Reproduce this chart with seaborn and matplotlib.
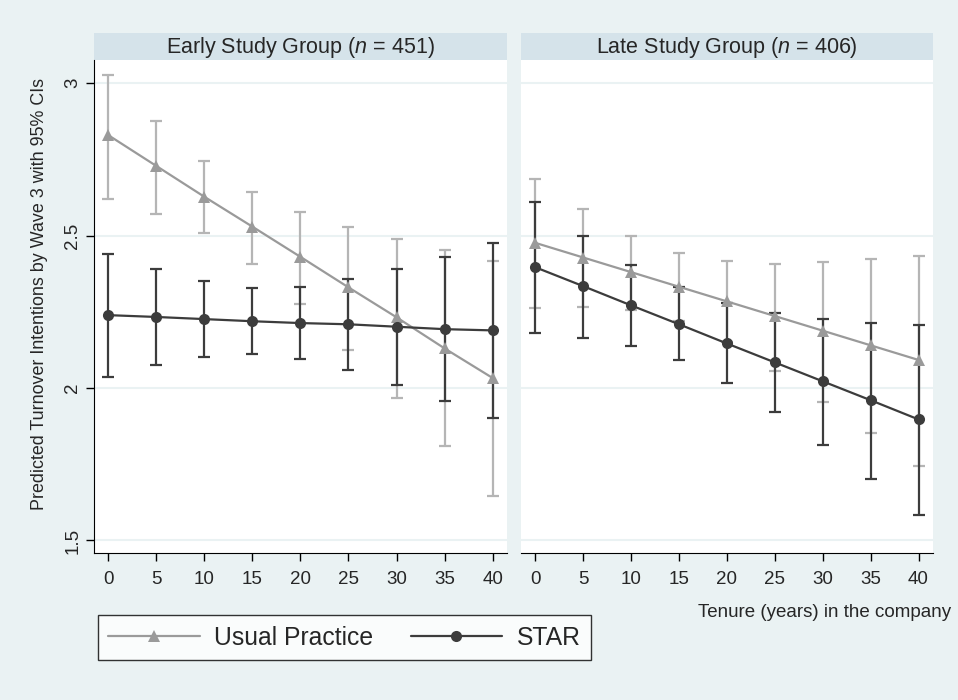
import numpy as np
import pandas as pd
import matplotlib
matplotlib.use('Agg')
import matplotlib.pyplot as plt
import matplotlib.patches as mpatches
import seaborn as sns

tenure = [0, 5, 10, 15, 20, 25, 30, 35, 40]

# Early Study Group (n = 451)
early_up = [2.829, 2.728, 2.627, 2.529, 2.430, 2.330, 2.232, 2.130, 2.033]
early_up_lo = [2.621, 2.571, 2.508, 2.408, 2.276, 2.126, 1.966, 1.809, 1.646]
early_up_hi = [3.027, 2.876, 2.743, 2.644, 2.577, 2.529, 2.489, 2.452, 2.416]
early_star = [2.239, 2.233, 2.226, 2.219, 2.213, 2.209, 2.201, 2.193, 2.189]
early_star_lo = [2.037, 2.074, 2.103, 2.111, 2.095, 2.059, 2.010, 1.958, 1.903]
early_star_hi = [2.439, 2.390, 2.351, 2.328, 2.331, 2.357, 2.390, 2.430, 2.475]

# Late Study Group (n = 406)
late_up = [2.476, 2.428, 2.380, 2.332, 2.284, 2.236, 2.188, 2.140, 2.092]
late_up_lo = [2.264, 2.266, 2.256, 2.220, 2.150, 2.056, 1.954, 1.851, 1.745]
late_up_hi = [2.684, 2.587, 2.500, 2.443, 2.417, 2.408, 2.414, 2.423, 2.433]
late_star = [2.396, 2.334, 2.271, 2.209, 2.146, 2.084, 2.022, 1.960, 1.897]
late_star_lo = [2.179, 2.163, 2.138, 2.092, 2.017, 1.921, 1.814, 1.702, 1.585]
late_star_hi = [2.610, 2.500, 2.403, 2.330, 2.280, 2.245, 2.226, 2.214, 2.207]

groups = ['Early Study Group ($\\mathit{n}$ = 451)', 'Late Study Group ($\\mathit{n}$ = 406)']
conditions = ['Usual Practice', 'STAR']

bg = '#EAF2F3'
strip = '#D5E3EA'
up_line = '#9A9A9A'
up_ci = '#B5B5B5'
star_col = '#3C3C3C'

sns.set_style('white')
plt.rcParams['font.family'] = ['Liberation Sans', 'DejaVu Sans']
plt.rcParams['mathtext.fontset'] = 'custom'
plt.rcParams['mathtext.it'] = 'Liberation Sans:italic'
plt.rcParams['mathtext.rm'] = 'Liberation Sans'

fig = plt.figure(figsize=(9.58, 7.0), dpi=100, facecolor=bg)
ax1 = fig.add_axes([0.0981, 0.21, 0.4311, 0.704])
ax2 = fig.add_axes([0.5438, 0.21, 0.4300, 0.704])

panel_data = [
    (early_up, early_up_lo, early_up_hi, early_star, early_star_lo, early_star_hi),
    (late_up, late_up_lo, late_up_hi, late_star, late_star_lo, late_star_hi),
]

for ax, title, (up, up_lo, up_hi, st, st_lo, st_hi) in zip([ax1, ax2], groups, panel_data):
    df = pd.DataFrame({
        'Tenure': tenure * 2,
        'Pred': up + st,
        'Condition': ['Usual Practice'] * len(tenure) + ['STAR'] * len(tenure),
    })
    ax.set_facecolor('white')
    for yv in [1.5, 2, 2.5, 3]:
        ax.axhline(yv, color=bg, lw=1.5, zorder=0)

    ax.errorbar(tenure, up, yerr=[np.array(up) - np.array(up_lo), np.array(up_hi) - np.array(up)],
                fmt='none', ecolor=up_ci, elinewidth=1.6, capsize=4, capthick=1.6, zorder=2)
    ax.errorbar(tenure, st, yerr=[np.array(st) - np.array(st_lo), np.array(st_hi) - np.array(st)],
                fmt='none', ecolor=star_col, elinewidth=1.6, capsize=4, capthick=1.6, zorder=3)

    sns.lineplot(data=df, x='Tenure', y='Pred', hue='Condition', style='Condition',
                 hue_order=conditions, style_order=conditions,
                 palette={'Usual Practice': up_line, 'STAR': star_col},
                 markers={'Usual Practice': '^', 'STAR': 'o'}, dashes=False,
                 markersize=8, markeredgewidth=0, linewidth=1.6, ax=ax, zorder=4)

    ax.set_xlim(-1.5, 41.5)
    ax.set_ylim(1.459, 3.075)
    ax.set_xticks(tenure)
    ax.set_yticks([1.5, 2, 2.5, 3])
    ax.set_yticklabels(['1.5', '2', '2.5', '3'], rotation=90, va='center')
    ax.tick_params(axis='both', direction='out', length=6, width=1, color='black',
                   labelsize=13.5, bottom=True, left=True)
    ax.tick_params(axis='x', pad=7)
    ax.tick_params(axis='y', pad=3)
    ax.set_xlabel('')
    ax.set_ylabel('')
    for side in ['top', 'right']:
        ax.spines[side].set_visible(False)
    ax.spines['bottom'].set_color('black')
    ax.spines['left'].set_color('black')
    ax.get_legend().remove()

    rect = mpatches.Rectangle((0, 1.0), 1, 0.055, transform=ax.transAxes, facecolor=strip,
                              edgecolor='none', clip_on=False)
    ax.add_patch(rect)
    ax.text(0.5, 1.0265, title, transform=ax.transAxes, ha='center', va='center', fontsize=15.5)

ax2.spines['left'].set_visible(False)
ax2.tick_params(axis='y', left=False, labelleft=False)

fig.text(0.041, 0.58, 'Predicted Turnover Intentions by Wave 3 with 95% CIs', rotation=90,
         ha='center', va='center', fontsize=12.9)
fig.text(0.993, 0.125, 'Tenure (years) in the company', ha='right', va='center', fontsize=13.5)

handles, labels = ax1.get_legend_handles_labels()
leg = fig.legend(handles, labels, loc='lower left', bbox_to_anchor=(0.102, 0.057), ncol=2,
                 frameon=True, fancybox=False, edgecolor='black', facecolor='white',
                 fontsize=17.8, handlelength=3.7, handletextpad=0.6, columnspacing=1.5,
                 borderpad=0.42, borderaxespad=0)
leg.get_frame().set_linewidth(1)

fig.savefig('out.png', dpi=100, facecolor=bg)
